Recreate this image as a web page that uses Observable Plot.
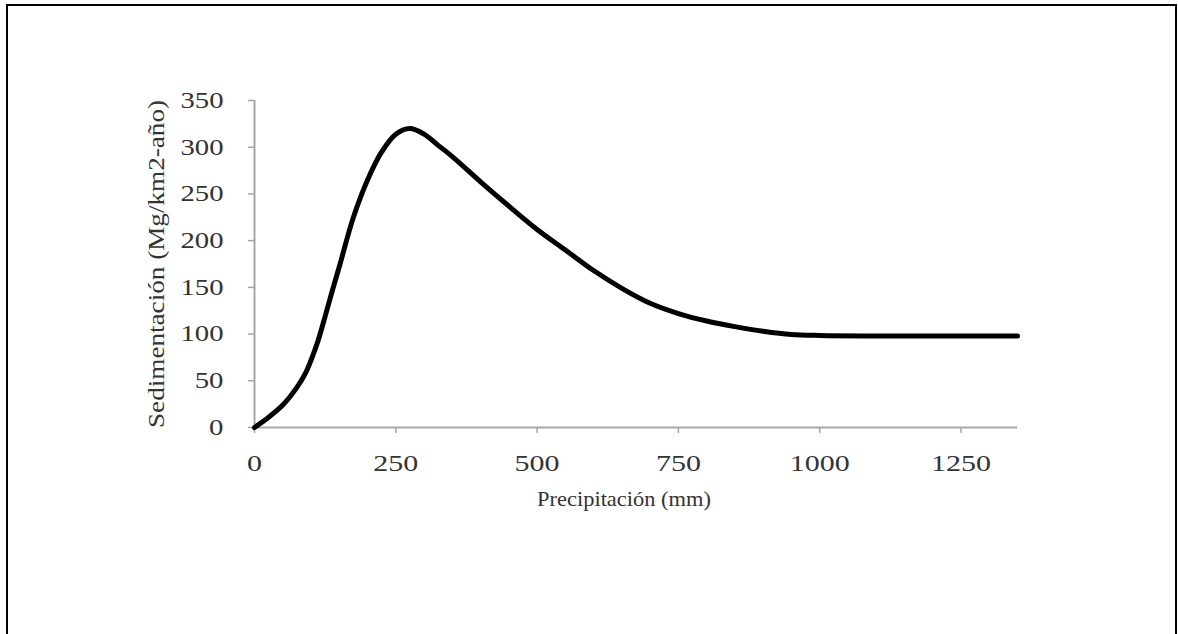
<!DOCTYPE html>
<html>
<head>
<meta charset="utf-8">
<script src="https://cdn.jsdelivr.net/npm/d3@7"></script>
<script src="https://cdn.jsdelivr.net/npm/@observablehq/plot@0.6"></script>
<style>
  html, body { margin: 0; padding: 0; background: #fff; }
  #wrap { position: relative; width: 1178px; height: 634px; overflow: hidden; }
  #frame { position: absolute; left: 6px; top: 4px; width: 1171px; height: 700px;
           border: 2px solid #000; box-sizing: border-box; pointer-events: none; }
  #chart { position: absolute; left: 0; top: 0; }
</style>
</head>
<body>
<div id="wrap">
  <div id="chart"></div>
  <div id="frame"></div>
</div>
<script>
// Sediment yield vs. annual precipitation (Langbein–Schumm type curve)
const precipitation = [0, 25, 50, 75, 90, 100, 112, 125, 137, 150, 175, 200, 225, 250, 275, 300, 325, 350, 400, 450, 500, 550, 600, 650, 700, 750, 800, 850, 900, 950, 1000, 1100, 1200, 1350];
const sedimentation = [0, 11, 24, 43, 58, 72, 92, 119, 145, 172, 225, 265, 295, 314, 320, 314, 302, 290, 263, 237, 212, 190, 168, 149, 133, 122, 114, 108, 103, 99.5, 98.5, 98, 98, 98];
const xTicks = [0, 250, 500, 750, 1000, 1250];
const yTicks = [0, 50, 100, 150, 200, 250, 300, 350];
const xLabel = "Precipitación (mm)";
const yLabel = "Sedimentación (Mg/km2-año)";

const data = precipitation.map((p, i) => ({p, s: sedimentation[i]}));

const axisGray = "#a6a6a6";
const font = "'Liberation Serif', 'Times New Roman', Times, serif";

const chart = Plot.plot({
  width: 1178,
  height: 634,
  marginLeft: 254,
  marginRight: 161,
  marginTop: 100,
  marginBottom: 207,
  style: {fontFamily: font, color: "#333", background: "transparent"},
  x: {domain: [0, 1350]},
  y: {domain: [0, 350]},
  marks: [
    Plot.ruleX([0], {stroke: axisGray, strokeWidth: 2}),
    Plot.ruleY([0], {stroke: axisGray, strokeWidth: 2}),
    Plot.axisY({
      ticks: yTicks, tickFormat: d => String(d), tickSize: 6, tickPadding: 25,
      stroke: axisGray, strokeWidth: 1.5, fontSize: 23,
      label: yLabel, labelAnchor: "center", labelOffset: 107, labelArrow: "none"
    }),
    Plot.axisX({
      ticks: xTicks, tickFormat: d => String(d), tickSize: 6, tickPadding: 20,
      stroke: axisGray, strokeWidth: 1.5, fontSize: 24,
      label: xLabel, labelAnchor: "center", labelOffset: 78, labelArrow: "none"
    }),
    Plot.line(data, {x: "p", y: "s", curve: "catmull-rom", stroke: "#000", strokeWidth: 5})
  ]
});

document.getElementById("chart").appendChild(chart);

// Widen the serif glyphs horizontally
chart.querySelectorAll('g[aria-label="x-axis tick label"] text, g[aria-label="y-axis tick label"] text').forEach(t => {
  const w = t.getComputedTextLength();
  t.setAttribute("textLength", (w * 1.25).toFixed(1));
  t.setAttribute("lengthAdjust", "spacingAndGlyphs");
});
const setLabel = (sel, len, size, dx) => {
  const t = chart.querySelector(sel);
  if (!t) return;
  t.setAttribute("font-size", size);
  t.setAttribute("textLength", len);
  t.setAttribute("lengthAdjust", "spacingAndGlyphs");
  if (dx) t.setAttribute("dx", dx);
};
setLabel('g[aria-label="x-axis label"] text', 174, 22, -12);
setLabel('g[aria-label="y-axis label"] text', 328, 23, 0);
</script>
</body>
</html>
